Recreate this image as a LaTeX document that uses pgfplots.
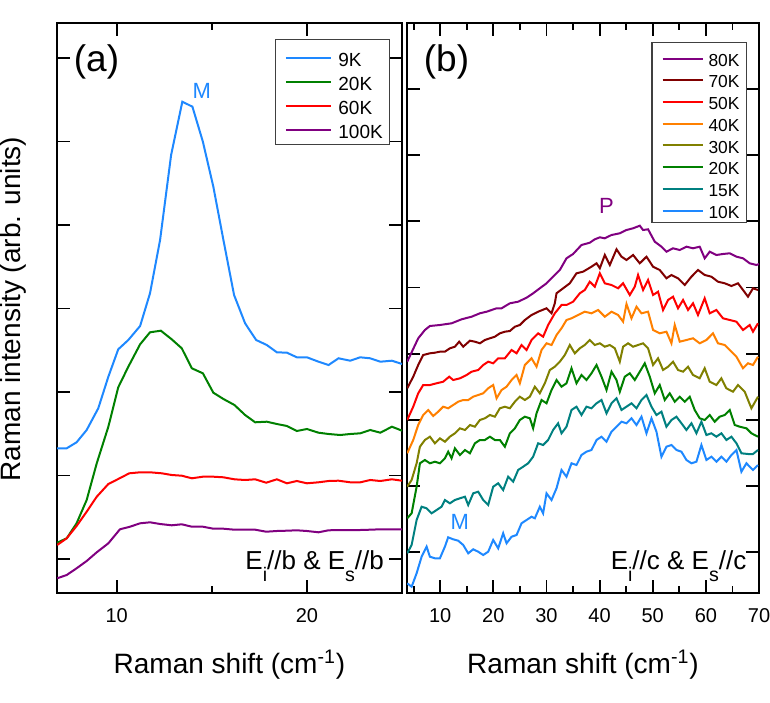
\documentclass[border=0pt]{standalone}
\usepackage{fontspec}
\setmainfont{Liberation Sans}
\usepackage{pgfplots}
\pgfplotsset{compat=1.18}
\definecolor{cblue}{RGB}{30,136,255}
\definecolor{cgreen}{RGB}{0,128,0}
\definecolor{cred}{RGB}{255,0,0}
\definecolor{cpurple}{RGB}{128,0,128}
\definecolor{cbrown}{RGB}{128,0,0}
\definecolor{corange}{RGB}{255,128,0}
\definecolor{colive}{RGB}{128,128,0}
\definecolor{cteal}{RGB}{0,128,128}
\newcommand{\sbs}[1]{\raisebox{-5.9pt}{\fontsize{9.8}{10}\selectfont #1}}
\pgfplotsset{
  panel/.style={
    scale only axis, height=285pt,
    ymin=0, ymax=570,
    axis line style={line width=1pt},
    every tick/.style={black, line width=0.9pt},
    major tick length=6.5pt, minor tick length=3.5pt,
    tick align=inside,
    yticklabels={},
    /pgf/number format/assume math mode=true,
    xticklabel style={font=\fontsize{10}{12}\selectfont, yshift=-4.3pt},
    xlabel={Raman shift (cm\textsuperscript{-1})},
    xlabel style={font=\fontsize{14}{16}\selectfont, at={(axis description cs:0.5,-0.1414)}, anchor=base},
    every axis plot/.append style={line width=1pt},
  },
}
\begin{document}
\begin{tikzpicture}
\path[use as bounding box] (0,0) rectangle (385pt,351pt);
% ---------------- panel (a)
\begin{axis}[panel,
  at={(28.5pt,54.5pt)}, anchor=south west, width=172.5pt,
  xmin=6.86, xmax=25,
  xtick={10,20}, minor xtick={15},
  ytick={34,117.5,201,284.5,368,451.5,535},
  ylabel={Raman intensity (arb. units)},
  ylabel style={font=\fontsize{14}{16}\selectfont, at={(axis description cs:-0.1072,0.498)}, anchor=base},
  legend style={at={(axis description cs:0.9652,0.9714)}, anchor=north east,
    draw=black!75, line width=0.6pt, inner xsep=3.3pt, inner ysep=2.9pt,
    font=\fontsize{9.5}{11}\selectfont,
    nodes={inner sep=0pt, text height=10.5pt, text depth=0pt},
    row sep=1.5pt, column sep=3.3pt, cells={anchor=west}},
  legend image code/.code={\path[draw=none] (0pt,0pt) -- (2pt,0pt); \draw[#1] (2pt,-1pt) -- (24.5pt,-1pt);},
]
\addplot[cblue] coordinates {(6.87,144.7)(7.37,144.7)(7.89,150.7)(8.42,163)(9.03,184.7)(9.56,216.3)(10.08,243.7)(10.61,253)(11.23,267)(11.75,299.7)(12.28,353)(12.86,438)(13.45,491.3)(13.98,486.3)(14.53,451.3)(15.08,406.3)(15.61,353)(16.17,298)(16.75,269.7)(17.33,253)(17.89,248)(18.42,240.7)(18.95,240.3)(19.47,235.7)(20.00,235.7)(20.61,231.3)(21.14,228)(21.66,234.7)(22.28,232.3)(22.80,235.7)(23.33,234.7)(23.86,231.3)(24.47,232.3)(25.00,229)};
\addlegendentry{9K}
\addplot[cgreen] coordinates {(6.87,50.3)(7.37,54.7)(7.89,69.7)(8.42,93)(8.95,129.7)(9.56,166.3)(10.08,205.7)(10.61,226.3)(11.23,248.7)(11.75,260.7)(12.32,262.3)(12.89,253.7)(13.42,244.7)(13.95,224.7)(14.53,219.7)(15.08,200.3)(15.61,194)(16.19,188)(16.75,178)(17.28,170.7)(17.89,171.3)(18.42,169)(18.95,167)(19.47,162)(20.00,164)(20.61,160.3)(21.14,159)(21.75,158)(22.28,159)(22.81,159.7)(23.33,163)(23.86,160.3)(24.47,166.3)(25.00,162.3)};
\addlegendentry{20K}
\addplot[cred] coordinates {(6.87,48)(7.37,54.7)(7.89,67)(8.42,81.3)(8.95,96.3)(9.56,109)(10.08,114)(10.66,119.7)(11.23,120.7)(11.75,120.7)(12.37,119.7)(12.89,118)(13.42,117.3)(13.95,114.7)(14.53,116.3)(15.08,116.3)(15.61,115.7)(16.19,113.7)(16.75,113)(17.28,113.7)(17.86,110.3)(18.42,113.7)(18.95,109.7)(19.47,112)(20.00,109.7)(20.61,110.7)(21.14,112)(21.66,112.3)(22.28,110.7)(22.81,110.7)(23.33,113)(23.86,112)(24.47,113.7)(25.00,112.3)};
\addlegendentry{60K}
\addplot[cpurple] coordinates {(6.87,14.7)(7.37,18)(7.89,24.7)(8.42,32)(8.95,40.7)(9.56,49.7)(10.17,63.7)(10.70,66.3)(11.23,69.7)(11.75,70.7)(12.28,69)(12.89,67.7)(13.42,68.7)(13.95,66.3)(14.53,66.3)(15.08,64.3)(15.61,64.3)(16.19,63.3)(16.75,63.3)(17.28,63.3)(17.86,61.3)(18.42,62)(18.95,62.3)(19.47,62.7)(20.00,62)(20.61,60.7)(21.14,62.7)(21.75,63)(22.28,63)(22.81,63)(23.33,63.3)(23.86,63.7)(25.00,63.7)};
\addlegendentry{100K}
\node[font=\fontsize{18.5}{20}\selectfont, inner sep=0pt, anchor=center] at (axis description cs:0.1145,0.9325) {(a)};
\node[font=\fontsize{11}{12}\selectfont, text=cblue, inner sep=0pt, anchor=center] at (axis cs:14.47,502.2) {M};
\node[font=\fontsize{13}{14}\selectfont, inner sep=0pt, anchor=base east] at (axis description cs:0.9487,0.0404) {E\sbs{i}//b \& E\sbs{s}//b};
\end{axis}
% ---------------- panel (b)
\begin{axis}[panel,
  at={(203.5pt,54.5pt)}, anchor=south west, width=176pt,
  xmin=3.75, xmax=70,
  xtick={10,20,...,70}, minor xtick={5,15,...,65},
  ytick={40.7,106.9,173.1,239.3,305.5,371.7,437.9,504.1},
  legend style={at={(axis description cs:0.9651,0.9672)}, anchor=north east,
    draw=black!75, line width=0.6pt, inner xsep=3.3pt, inner ysep=2.35pt,
    font=\fontsize{8.7}{10}\selectfont,
    nodes={inner sep=0pt, text height=9.65pt, text depth=0pt},
    row sep=1.2pt, column sep=2.2pt, cells={anchor=west}},
  legend image code/.code={\path[draw=none] (0pt,0pt) -- (2pt,0pt); \draw[#1] (2pt,-1pt) -- (22.3pt,-1pt);},
]
\addplot[cpurple] coordinates {(3.79,231.3)(5.86,254.7)(7.12,263)(8.06,267)(9.94,268)(12.14,269.7)(14.02,273.7)(15.91,276.3)(17.47,279.7)(18.73,281.3)(19.67,283)(20.61,284.7)(21.55,284.7)(23.11,289.7)(24.67,291.3)(26.25,295.3)(27.49,299.7)(28.75,304.7)(30.01,309.7)(31.25,316.3)(32.51,323)(33.77,334.7)(35.01,339)(36.59,348)(38.15,350.3)(39.10,353.7)(40.04,355.7)(40.98,354.7)(42.24,358)(43.80,359.7)(45.06,363)(46.30,364.7)(47.56,367.3)(48.18,363)(49.12,363.7)(50.38,351.3)(51.64,346.3)(52.58,341.3)(53.82,344.7)(55.08,343)(56.34,346.3)(57.58,344.7)(58.84,346.3)(59.78,334.7)(60.72,341.3)(61.98,338)(63.22,339)(64.49,339.7)(65.75,336.3)(66.99,334.7)(68.25,329.7)(69.51,328)(70,329)};
\addlegendentry{80K}
\addplot[cbrown] coordinates {(3.79,204.7)(4.92,216.3)(5.86,228)(6.80,238)(8.06,239.7)(9.00,240.3)(9.94,241.3)(10.88,241.3)(11.82,244.7)(12.76,246.3)(13.57,251.3)(14.33,246.3)(15.59,252.3)(16.53,251.3)(17.47,249.7)(18.41,253)(19.35,254.7)(20.29,256.3)(21.23,259.7)(22.17,261.3)(23.11,262)(24.05,266.3)(24.99,268)(25.93,273)(27.19,278)(28.43,281.3)(30.01,284.7)(30.95,279.7)(31.57,289.7)(31.89,299.7)(33.13,304.7)(34.39,309.7)(35.65,319.7)(36.89,321.3)(38.47,326.3)(39.42,329.7)(40.04,324.7)(40.98,338)(41.92,328)(43.18,343.7)(44.12,336.3)(45.06,333)(46.30,338)(47.56,329.7)(48.82,336.3)(50.06,326.3)(51.32,323)(52.58,314.7)(53.52,318)(54.76,314.7)(56.02,308)(57.28,316.3)(58.52,323)(59.78,318)(61.04,316.3)(62.28,311.3)(63.55,309.7)(64.81,307)(66.05,309.7)(66.99,303)(67.93,296.3)(68.87,304.7)(69.81,303)};
\addlegendentry{70K}
\addplot[cred] coordinates {(3.79,173)(4.92,186.3)(5.86,199.7)(6.80,208)(8.06,208)(9.32,209.7)(10.56,211.3)(11.69,216.3)(12.44,213)(13.71,214.7)(14.97,218)(15.91,221.3)(17.15,223)(18.09,228)(19.03,231.3)(19.97,229.7)(20.91,234.7)(22.17,234.7)(23.43,243)(24.37,239.7)(25.31,248)(26.25,243)(27.19,253)(28.43,259.7)(29.37,256.3)(30.31,268)(31.57,279.7)(32.83,288)(33.77,288)(35.01,291.3)(36.27,299.7)(37.21,303)(38.15,311.3)(39.10,306.3)(40.04,319.7)(40.98,309.7)(42.24,308)(43.48,304.7)(44.42,309.7)(45.68,298)(46.62,306.3)(47.24,318)(48.18,303)(49.12,313)(50.06,298)(51.00,301.3)(51.94,283)(52.88,293)(53.82,296.3)(54.76,284.7)(55.70,293)(56.64,283)(57.58,289.7)(58.52,278)(59.78,294.7)(60.72,279.7)(61.98,283)(63.22,274.7)(64.49,273)(65.75,271.3)(66.99,263)(68.25,268)(68.87,261.3)(69.81,269.7)};
\addlegendentry{50K}
\addplot[corange] coordinates {(3.79,139.7)(4.92,153)(5.86,168)(6.80,178)(7.74,183)(8.68,177)(9.62,181.3)(10.56,186.3)(11.50,184.7)(12.44,188)(13.39,191.3)(14.33,193)(15.27,193)(16.21,196.3)(17.15,198)(18.09,199.7)(19.03,204.7)(19.97,208)(20.61,194.7)(21.55,203)(22.49,206.3)(23.43,213)(24.37,218)(24.99,209.7)(25.93,228)(27.19,234.7)(28.13,226.3)(29.07,243)(30.01,249.7)(30.95,248)(31.89,258)(32.83,264.7)(33.77,273)(34.71,274.7)(35.95,278)(37.21,281.3)(38.47,279.7)(39.72,283)(40.98,276.3)(42.24,281.3)(43.48,278)(44.42,271.3)(45.06,289)(46.00,274.7)(46.94,286.3)(47.88,279.7)(49.12,281.3)(50.06,263)(51.32,259.7)(52.58,261.3)(53.52,249.7)(54.14,268)(55.08,251.3)(56.34,253)(57.58,254.7)(58.84,249.7)(60.10,253)(61.34,259.7)(62.28,249.7)(63.55,248)(64.81,241.3)(65.75,236.3)(66.99,224.7)(67.93,229.7)(68.87,228)(69.81,236.3)};
\addlegendentry{40K}
\addplot[colive] coordinates {(3.79,106.3)(4.62,113)(5.56,129.7)(6.18,146.3)(7.12,153)(8.06,156.3)(9.00,149.7)(9.94,154.7)(10.88,151.3)(11.82,156.3)(12.76,159.7)(13.71,164.7)(14.65,163)(15.59,168)(16.53,166.3)(17.47,173)(18.41,174.7)(19.35,178)(20.29,176.3)(21.23,184.7)(22.17,186.3)(23.11,184.7)(24.05,191.3)(24.99,196.3)(25.93,193)(26.87,196.3)(27.81,206.3)(28.75,199.7)(29.69,209.7)(30.63,223)(31.57,226.3)(32.51,231.3)(33.45,238)(34.39,248)(35.33,239.7)(36.27,244.7)(37.21,248)(38.15,253)(39.10,248)(40.04,249.7)(40.98,246.3)(41.92,248)(42.86,244.7)(43.80,231.3)(44.42,246.3)(45.36,249.7)(46.30,246.3)(47.24,248)(48.18,249.7)(49.12,244.7)(50.06,228)(51.00,234.7)(51.94,223)(52.88,226.3)(53.82,231.3)(54.76,223)(55.70,221.3)(56.64,226.3)(57.58,218)(58.84,214.7)(59.78,224.7)(60.72,211.3)(61.98,208)(62.92,214.7)(63.86,204.7)(65.11,201.3)(66.05,208)(67.31,201.3)(68.57,184.7)(69.81,196.3)};
\addlegendentry{30K}
\addplot[cgreen] coordinates {(3.79,74.7)(4.62,79.7)(5.56,106.3)(6.18,129.7)(7.12,133)(8.06,129.7)(9.00,131.3)(9.94,129.7)(10.88,134.7)(11.50,141.3)(12.14,134.7)(12.76,144.7)(13.71,138)(14.65,143)(15.59,139.7)(16.53,149.7)(17.47,153)(18.41,153)(19.35,156.3)(20.29,153)(21.23,153)(22.17,146.3)(23.11,159.7)(24.05,164.7)(24.99,173)(25.93,176.3)(26.87,174.7)(27.49,164.7)(28.13,179.7)(29.07,193)(30.01,189.7)(30.95,203)(31.89,213)(32.83,206.3)(33.77,209.7)(34.71,224.7)(35.65,209.7)(36.59,218)(37.53,213)(38.47,219.7)(39.42,228)(40.36,216.3)(41.30,203)(42.24,221.3)(43.18,213)(43.80,201.3)(44.74,216.3)(45.68,219.7)(46.62,213)(47.56,221.3)(48.50,229.7)(49.44,216.3)(50.38,199.7)(51.32,208)(52.26,193)(53.20,199.7)(54.14,191.3)(55.08,196.3)(56.02,191.3)(56.96,196.3)(57.90,183)(58.84,174.7)(59.78,173)(60.72,178)(61.66,171.3)(62.60,176.3)(63.55,178)(64.49,183)(65.43,168)(66.37,166.3)(67.63,164.7)(68.57,159.7)(69.81,156.3)};
\addlegendentry{20K}
\addplot[cteal] coordinates {(3.79,39.7)(4.62,48)(5.56,73)(6.50,86.3)(7.44,84.7)(8.38,79.7)(9.32,83)(10.26,86.3)(10.88,93)(11.82,89.7)(12.76,93)(13.71,94.7)(14.65,96.3)(15.27,88)(16.21,99.7)(17.15,101.3)(18.09,93)(19.03,88)(19.97,106.3)(20.91,109.7)(21.85,103)(22.79,116.3)(23.73,111.3)(24.67,123)(25.61,126.3)(26.55,129.7)(27.49,136.3)(28.43,149.7)(29.37,148)(30.31,153)(31.25,163)(32.19,169.7)(32.83,159.7)(33.77,166.3)(34.71,183)(35.65,186.3)(36.59,178)(37.53,186.3)(38.47,184.7)(39.42,189.7)(40.36,193)(41.30,179.7)(42.24,189.7)(43.18,194.7)(44.12,183)(45.06,186.3)(46.00,189.7)(46.94,184.7)(47.88,193)(48.82,198)(49.76,186.3)(50.70,178)(51.64,181.3)(52.58,166.3)(53.52,173)(54.46,176.3)(55.40,169.7)(56.34,163)(57.28,169.7)(58.22,159.7)(59.16,171.3)(60.10,158)(61.04,159.7)(61.98,156.3)(62.92,159.7)(63.86,153)(64.81,156.3)(65.75,149.7)(66.69,139.7)(67.93,139)(68.87,139)(69.81,143)};
\addlegendentry{15K}
\addplot[cblue] coordinates {(3.79,9.7)(4.62,6.3)(5.56,19.7)(6.50,36.3)(7.44,46.3)(8.06,36.3)(9.00,34.7)(9.94,34.7)(10.88,46.3)(11.50,55.7)(12.44,53.7)(13.39,52.3)(14.33,48)(15.27,39.7)(16.21,43.7)(17.15,41.3)(18.09,38)(19.03,41.3)(19.97,53)(20.91,44.7)(21.85,59.7)(22.49,49.7)(23.43,56.3)(24.37,58)(25.31,69.7)(26.25,73)(27.19,76.3)(27.81,74.7)(28.75,86.3)(29.37,79.7)(30.01,99.7)(30.95,93)(31.89,104.7)(32.83,123)(33.77,116.3)(34.71,129.7)(35.65,128)(36.59,138)(37.53,141.3)(38.47,143)(39.42,153)(40.36,156.3)(41.30,151.3)(42.24,161.3)(43.18,166.3)(44.12,171.3)(45.06,169.7)(46.00,174.7)(46.94,168)(47.88,176.3)(48.82,159.7)(49.76,174.7)(50.70,161.3)(51.64,136.3)(52.58,146.3)(53.52,148)(54.46,143)(55.40,141.3)(56.34,133)(57.28,129.7)(58.22,131.3)(59.16,148)(60.10,133)(61.04,136.3)(61.98,131.3)(62.92,136.3)(63.86,131.3)(64.81,138)(65.75,143)(66.69,121.3)(67.63,129.7)(68.87,123)(69.81,128)};
\addlegendentry{10K}
\node[font=\fontsize{18.5}{20}\selectfont, inner sep=0pt, anchor=center] at (axis description cs:0.1122,0.9325) {(b)};
\node[font=\fontsize{11}{12}\selectfont, text=cpurple, inner sep=0pt, anchor=center] at (axis cs:41.30,386.7) {P};
\node[font=\fontsize{11}{12}\selectfont, text=cblue, inner sep=0pt, anchor=center] at (axis cs:13.70,71.3) {M};
\node[font=\fontsize{13}{14}\selectfont, inner sep=0pt, anchor=base east] at (axis description cs:0.965,0.0404) {E\sbs{i}//c \& E\sbs{s}//c};
\end{axis}
\end{tikzpicture}
\end{document}
